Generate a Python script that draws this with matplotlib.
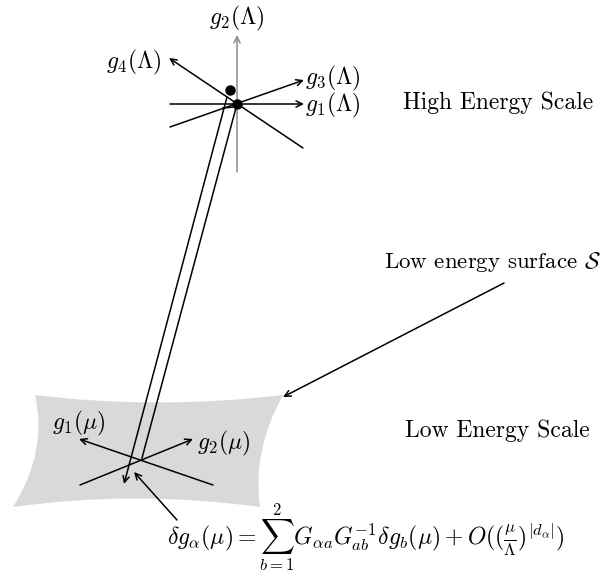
import matplotlib.pyplot as plt
from matplotlib.path import Path
from matplotlib.patches import PathPatch

plt.rcParams['mathtext.fontset'] = 'cm'
plt.rcParams['font.family'] = ['cmr10', 'DejaVu Serif']

# diagram geometry in pixel coordinates (x right, y down)
high_center = (237, 104)
high_dot2 = (230, 90)
high_axes = {  # start -> arrow end
    'g1': ((170, 104), (304, 104)),
    'g3': ((170, 127), (304, 80)),
    'g4': ((303, 148), (169, 58)),
    'g2': ((237, 172), (237, 35)),
}
high_labels = [('$g_2(\\Lambda)$', (237, 18), 'center'),
               ('$g_4(\\Lambda)$', (161, 62), 'right'),
               ('$g_3(\\Lambda)$', (305, 78), 'left'),
               ('$g_1(\\Lambda)$', (305, 105), 'left')]

low_center = (142, 458)
low_axes = {
    'g1': ((213, 485), (79, 439)),
    'g2': ((80, 485), (193, 439)),
}
low_labels = [('$g_1(\\mu)$', (52, 423), 'left'),
              ('$g_2(\\mu)$', (197, 443), 'left')]

# curved patch: corners and control points
surface_corners = [(35, 395), (283, 395), (260, 507), (13, 507)]
surface_ctrl = [(157, 410), (252, 451), (136, 490), (48, 451)]

flow_left = ((227, 97), (124, 484))
flow_right = ((237, 104), (142, 458))
surface_arrow = ((504, 283), (283, 397))
delta_arrow = ((177, 520), (134, 472))

side_texts = [('High Energy Scale', (403, 103)),
              ('Low energy surface $\\mathcal{S}$', (384, 262)),
              ('Low Energy Scale', (405, 431))]
formula = ('$\\delta g_\\alpha(\\mu) = \\sum_{b=1}^{2} G_{\\alpha a}G_{ab}^{-1}'
           '\\delta g_b(\\mu) + O((\\frac{\\mu}{\\Lambda})^{|d_\\alpha|})$')

fig = plt.figure(figsize=(6.04, 5.77), dpi=100)
ax = fig.add_axes([0, 0, 1, 1])
ax.set_xlim(0, 604)
ax.set_ylim(577, 0)
ax.axis('off')

# gray surface
verts = [surface_corners[0]]
codes = [Path.MOVETO]
for i in range(4):
    verts += [surface_ctrl[i], surface_corners[(i + 1) % 4]]
    codes += [Path.CURVE3, Path.CURVE3]
verts.append(surface_corners[0])
codes.append(Path.CLOSEPOLY)
ax.add_patch(PathPatch(Path(verts, codes), facecolor='#d9d9d9', edgecolor='none', zorder=0))

arrow_kw = dict(arrowstyle='->,head_length=0.45,head_width=0.22', lw=1.1,
                shrinkA=0, shrinkB=0)


def arrow(start, end, color='black'):
    ax.annotate('', xy=end, xytext=start,
                arrowprops=dict(color=color, **arrow_kw))


for key, (s, e) in high_axes.items():
    arrow(s, e, color='#8c8c8c' if key == 'g2' else 'black')
for key, (s, e) in low_axes.items():
    arrow(s, e)

ax.plot(*high_center, 'o', color='black', ms=6.5, zorder=5)
ax.plot(*high_dot2, 'o', color='black', ms=6.5, zorder=5)

for txt, xy, ha in high_labels + low_labels:
    ax.text(xy[0], xy[1], txt, fontsize=17, ha=ha, va='center')

# flow of couplings down to the low energy surface
arrow(flow_left[0], flow_left[1])
ax.plot([flow_right[0][0], flow_right[1][0]], [flow_right[0][1], flow_right[1][1]],
        color='black', lw=1.1)
ax.plot([223, 234], [108, 107], color='black', lw=1.1)

arrow(surface_arrow[0], surface_arrow[1])
arrow(delta_arrow[0], delta_arrow[1])

for txt, xy in side_texts:
    ax.text(xy[0], xy[1], txt, fontsize=17 if 'surface' not in txt else 16.5,
            ha='left', va='center')

ax.text(167, 537, formula, fontsize=17, ha='left', va='center')

fig.savefig('out.png', dpi=100)
